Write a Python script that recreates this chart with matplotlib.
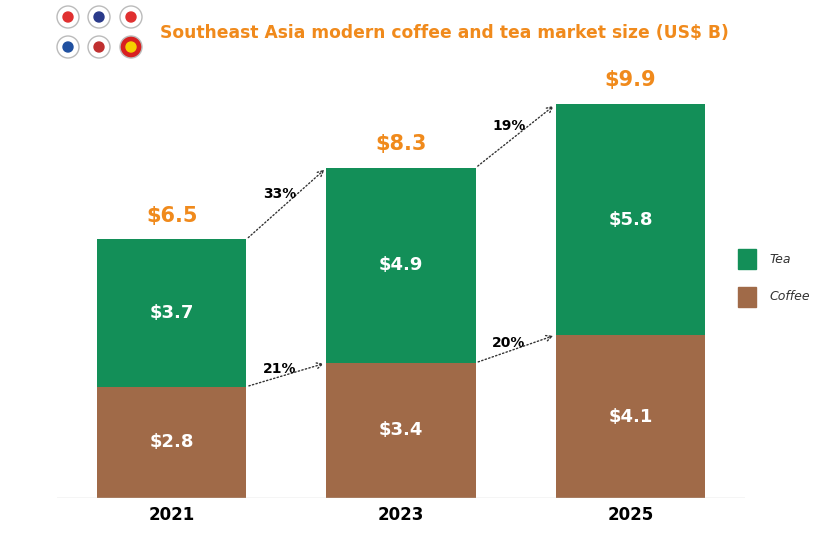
import matplotlib.pyplot as plt
from matplotlib.patches import Ellipse, Rectangle

years = ['2021', '2023', '2025']
coffee = [2.8, 3.4, 4.1]
tea = [3.7, 4.9, 5.8]
totals = ['$6.5', '$8.3', '$9.9']
tea_growth = ['33%', '19%']
coffee_growth = ['21%', '20%']

green = '#138f58'
brown = '#a06a48'
orange = '#f08a1c'

fig = plt.figure(figsize=(8.26, 5.42), dpi=100)
ax = fig.add_axes([0.069, 0.081, 0.833, 0.881])
x = [0, 1, 2]
w = 0.65
ax.bar(x, coffee, width=w, color=brown)
ax.bar(x, tea, width=w, bottom=coffee, color=green)
ax.set_xlim(-0.5, 2.5)
ax.set_ylim(0, 12)
for s in ax.spines.values():
    s.set_visible(False)
ax.axhline(0, color='#cccccc', lw=1)
ax.set_yticks([])
ax.set_xticks(x)
ax.set_xticklabels(years, fontsize=12, fontweight='bold')
ax.tick_params(length=0, pad=6)

for i in x:
    tot = coffee[i] + tea[i]
    ax.text(i, coffee[i] / 2, f'${coffee[i]}', ha='center', va='center', color='white', fontsize=13, fontweight='bold')
    ax.text(i, coffee[i] + tea[i] / 2, f'${tea[i]}', ha='center', va='center', color='white', fontsize=13, fontweight='bold')
    ax.text(i, tot + 0.35, totals[i], ha='center', va='bottom', color=orange, fontsize=15, fontweight='bold')

arrow = dict(arrowstyle='->', linestyle=':', color='#333333', lw=1)
for i in range(2):
    t0 = coffee[i] + tea[i]
    t1 = coffee[i + 1] + tea[i + 1]
    ax.annotate('', xy=(i + 1 - w / 2, t1), xytext=(i + w / 2, t0), arrowprops=arrow)
    ax.text(i + 0.5 - 0.03, (t0 + t1) / 2 + 0.25, tea_growth[i], ha='center', va='center', fontsize=10, fontweight='bold')
    ax.annotate('', xy=(i + 1 - w / 2, coffee[i + 1]), xytext=(i + w / 2, coffee[i]), arrowprops=arrow)
    ax.text(i + 0.5 - 0.03, (coffee[i] + coffee[i + 1]) / 2 + 0.15, coffee_growth[i], ha='center', va='center', fontsize=10, fontweight='bold')

# legend
for lbl, col, yp in [('Tea', green, 259), ('Coffee', brown, 297)]:
    fig.patches.append(Rectangle((738 / 826, 1 - (yp + 10) / 542), 18 / 826, 20 / 542, color=col, transform=fig.transFigure))
    fig.text(769 / 826, 1 - yp / 542, lbl, fontsize=9, style='italic', va='center', color='#333333')

# flags (simplified)
flags = [(68, 17, ['white', '#e03030']), (99, 17, ['white', '#2a3a8a']), (131, 17, ['white', '#e03030']),
         (68, 47, ['white', '#2050a0']), (99, 47, ['white', '#c03030']), (131, 47, ['#d82020', '#f5d000'])]
for fx, fy, cols in flags:
    r = 11
    fig.patches.append(Ellipse((fx / 826, 1 - fy / 542), 2 * r / 826, 2 * r / 542, color=cols[0], ec='#bbbbbb',
                               transform=fig.transFigure))
    fig.patches.append(Ellipse((fx / 826, 1 - fy / 542), 10 / 826, 10 / 542, color=cols[1], transform=fig.transFigure))

fig.text(160 / 826, 1 - 33 / 542, 'Southeast Asia modern coffee and tea market size (US$ B)',
         color=orange, fontsize=12.3, fontweight='bold', va='center')

fig.savefig('out.png', dpi=100)
